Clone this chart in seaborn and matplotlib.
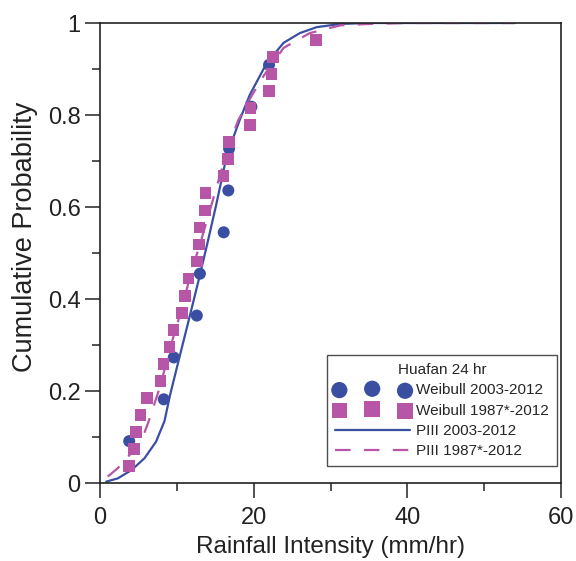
import numpy as np
import pandas as pd
import matplotlib
matplotlib.use("Agg")
import matplotlib.pyplot as plt
import seaborn as sns

# =========================
# DATA
# =========================
# Weibull plotting positions, 2003-2012 (n = 10)
weib_short_x = [3.8, 8.3, 9.6, 12.6, 13.0, 16.1, 16.7, 16.8, 19.7, 22.0]
weib_short_p = [0.091, 0.182, 0.273, 0.364, 0.455, 0.545, 0.636, 0.727, 0.818, 0.909]

# Weibull plotting positions, 1987*-2012 (n = 26)
weib_long_x = [3.8, 4.4, 4.7, 5.3, 6.1, 7.85, 8.3, 9.05, 9.6, 10.7, 11.05, 11.55, 12.6,
               12.9, 12.95, 13.65, 13.75, 16.1, 16.65, 16.8, 19.5, 19.6, 22.0, 22.35,
               22.5, 28.1]
weib_long_p = [0.037, 0.074, 0.111, 0.148, 0.185, 0.222, 0.259, 0.296, 0.333, 0.370,
               0.407, 0.444, 0.481, 0.519, 0.556, 0.593, 0.630, 0.667, 0.704, 0.741,
               0.778, 0.815, 0.852, 0.889, 0.926, 0.963]

# Pearson III fitted CDFs
p3_short_x = [0.8, 2.3, 4.1, 5.8, 7.3, 8.4, 9.1, 10.2, 11.7, 13.0, 14.1, 15.1, 16.5,
              18.2, 19.5, 21.7, 23.9, 26.0, 28.2, 31.3, 35.0, 40.0, 54.0]
p3_short_p = [0.003, 0.010, 0.028, 0.054, 0.090, 0.135, 0.19, 0.264, 0.364, 0.452,
              0.530, 0.603, 0.712, 0.790, 0.844, 0.913, 0.957, 0.978, 0.991, 0.998,
              1.0, 1.0, 1.0]

p3_long_x = [1.0, 2.3, 3.65, 5.4, 6.25, 7.1, 7.8, 9.45, 10.85, 11.9, 12.8, 15.0, 16.5,
             17.35, 18.0, 19.5, 21.25, 23.9, 27.3, 31.3, 35.2, 40.0, 54.0]
p3_long_p = [0.014, 0.032, 0.057, 0.093, 0.130, 0.173, 0.209, 0.312, 0.390, 0.463,
             0.507, 0.633, 0.720, 0.760, 0.789, 0.835, 0.884, 0.946, 0.978, 0.995,
             0.998, 1.0, 1.0]

BLUE = "#3B4FA2"
PINK = "#B755A6"
INK = "#222222"

# =========================
# PLOT
# =========================
sns.set_style("ticks")
plt.rcParams['font.family'] = ['Liberation Sans', 'DejaVu Sans']

fig = plt.figure(figsize=(5.76, 5.61), dpi=100)
ax = fig.add_axes([0.1736, 0.139, 0.8004, 0.820])

df_p3s = pd.DataFrame({"x": p3_short_x, "p": p3_short_p})
df_p3l = pd.DataFrame({"x": p3_long_x, "p": p3_long_p})
df_ws = pd.DataFrame({"x": weib_short_x, "p": weib_short_p})
df_wl = pd.DataFrame({"x": weib_long_x, "p": weib_long_p})

sns.lineplot(data=df_p3s, x="x", y="p", ax=ax, color=BLUE, linewidth=1.6,
             sort=False, estimator=None, label="PIII 2003-2012", legend=False)
sns.lineplot(data=df_p3l, x="x", y="p", ax=ax, color=PINK, linewidth=1.6,
             sort=False, estimator=None, label="PIII 1987*-2012", legend=False)
ax.lines[1].set_dashes([7, 6])

sns.scatterplot(data=df_ws, x="x", y="p", ax=ax, color=BLUE, marker="o", s=75,
                edgecolor="none", label="Weibull 2003-2012", legend=False, zorder=3)
sns.scatterplot(data=df_wl, x="x", y="p", ax=ax, color=PINK, marker="s", s=68,
                edgecolor="none", label="Weibull 1987*-2012", legend=False, zorder=4)

ax.set_xlim(0, 60)
ax.set_ylim(0, 1)
ax.set_xticks([0, 20, 40, 60])
ax.set_xticks([10, 30, 50], minor=True)
ax.set_yticks([0, 0.2, 0.4, 0.6, 0.8, 1.0])
ax.set_yticklabels(["0", "0.2", "0.4", "0.6", "0.8", "1"])
ax.set_yticks([0.1, 0.3, 0.5, 0.7, 0.9], minor=True)
ax.tick_params(axis="both", which="major", direction="out", length=11, width=1.1,
               labelsize=17, pad=6, colors=INK)
ax.tick_params(axis="y", which="major", pad=3)
ax.tick_params(axis="both", which="minor", direction="out", length=6, width=1.1, colors=INK)
ax.tick_params(top=False, right=False, which="both")

for side in ["top", "right", "left", "bottom"]:
    ax.spines[side].set_visible(True)
    ax.spines[side].set_linewidth(1.2)
    ax.spines[side].set_color(INK)

ax.set_xlabel("Rainfall Intensity (mm/hr)", fontsize=17.5, color=INK, labelpad=5)
ax.set_ylabel("Cumulative Probability", fontsize=19.5, color=INK)
ax.yaxis.set_label_coords(-0.135, 0.535)

handles = [ax.collections[0], ax.collections[1], ax.lines[0], ax.lines[1]]
labels = ["Weibull 2003-2012", "Weibull 1987*-2012", "PIII 2003-2012", "PIII 1987*-2012"]
leg = ax.legend(handles, labels, title="Huafan 24 hr", loc="lower right",
                bbox_to_anchor=(0.991, 0.037), fontsize=11, title_fontsize=11,
                scatterpoints=3, numpoints=1, handlelength=4.9, handletextpad=0.45,
                markerscale=1.35, frameon=True, fancybox=False, borderpad=0.5,
                labelspacing=0.42, borderaxespad=0)
leg.get_frame().set_edgecolor(INK)
leg.get_frame().set_linewidth(1.0)

fig.savefig("out.png", dpi=100)
